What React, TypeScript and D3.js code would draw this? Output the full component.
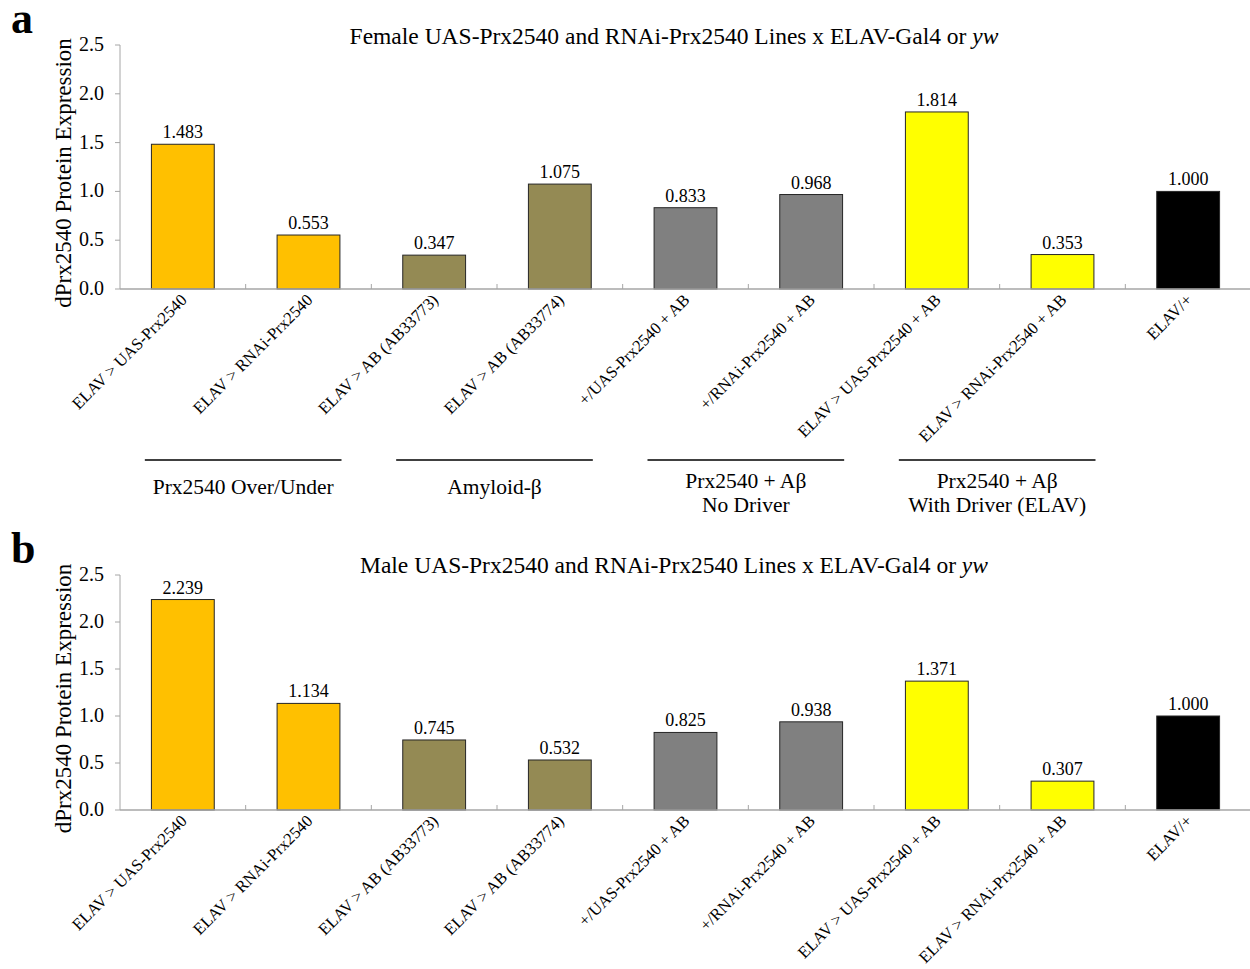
import React from "react";
import * as d3 from "d3";

// Genotype categories shared by both panels
const categories: string[] = [
  "ELAV > UAS-Prx2540",
  "ELAV > RNAi-Prx2540",
  "ELAV > AB (AB33773)",
  "ELAV > AB (AB33774)",
  "+/UAS-Prx2540 + AB",
  "+/RNAi-Prx2540 + AB",
  "ELAV > UAS-Prx2540 + AB",
  "ELAV > RNAi-Prx2540 + AB",
  "ELAV/+",
];

const barColors: string[] = [
  "#FFC000", "#FFC000",
  "#948A54", "#948A54",
  "#808080", "#808080",
  "#FFFF00", "#FFFF00",
  "#000000",
];

const femaleValues: number[] = [1.483, 0.553, 0.347, 1.075, 0.833, 0.968, 1.814, 0.353, 1.0];
const maleValues: number[] = [2.239, 1.134, 0.745, 0.532, 0.825, 0.938, 1.371, 0.307, 1.0];

const yTicks: number[] = [0, 0.5, 1.0, 1.5, 2.0, 2.5];

// Group brackets: first and last category index, and label lines
const groups: { from: number; to: number; lines: string[] }[] = [
  { from: 0, to: 1, lines: ["Prx2540 Over/Under"] },
  { from: 2, to: 3, lines: ["Amyloid-β"] },
  { from: 4, to: 5, lines: ["Prx2540 + Aβ", "No Driver"] },
  { from: 6, to: 7, lines: ["Prx2540 + Aβ", "With Driver (ELAV)"] },
];

const FONT = "'Liberation Serif', 'Times New Roman', serif";
const X0 = 120;
const X1 = 1251;

type PanelProps = {
  letter: string;
  sex: string;
  values: number[];
  top: number;
  bottom: number;
  titleY: number;
  letterY: number;
  showGroups: boolean;
};

function Panel({ letter, sex, values, top, bottom, titleY, letterY, showGroups }: PanelProps) {
  const x = d3.scaleBand<string>().domain(categories).range([X0, X1]).paddingInner(0.5).paddingOuter(0.25);
  const y = d3.scaleLinear().domain([0, 2.5]).range([bottom, top]);
  const step = x.step();
  const bw = x.bandwidth();
  const center = (c: string) => (x(c) as number) + bw / 2;
  const groupY = 460;

  return (
    <g>
      <text x={11} y={letterY} fontFamily={FONT} fontWeight="bold" fontSize={44}>{letter}</text>
      <text x={674} y={titleY} fontFamily={FONT} fontSize={23.5} textAnchor="middle">
        {sex} UAS-Prx2540 and RNAi-Prx2540 Lines x ELAV-Gal4 or <tspan fontStyle="italic">yw</tspan>
      </text>
      <text
        transform={`translate(71,${(top + bottom) / 2 + 6}) rotate(-90)`}
        fontFamily={FONT}
        fontSize={23}
        textAnchor="middle"
      >
        dPrx2540 Protein Expression
      </text>

      {/* y axis */}
      <line x1={X0} x2={X0} y1={top} y2={bottom} stroke="#a6a6a6" strokeWidth={1} />
      {yTicks.map((t) => (
        <g key={t}>
          <line x1={X0 - 5} x2={X0} y1={y(t)} y2={y(t)} stroke="#a6a6a6" />
          <text x={104} y={y(t) + 6} fontFamily={FONT} fontSize={20} textAnchor="end">
            {d3.format(".1f")(t)}
          </text>
        </g>
      ))}

      {/* bars */}
      {categories.map((c, i) => (
        <g key={c}>
          <rect
            x={x(c)}
            y={y(values[i])}
            width={bw}
            height={bottom - y(values[i])}
            fill={barColors[i]}
            stroke="#262626"
            strokeWidth={1}
          />
          <text x={center(c)} y={y(values[i]) - 6} fontFamily={FONT} fontSize={18} textAnchor="middle">
            {d3.format(".3f")(values[i])}
          </text>
        </g>
      ))}

      {/* x axis */}
      <line x1={X0} x2={X1} y1={bottom} y2={bottom} stroke="#a6a6a6" strokeWidth={1.5} />
      {d3.range(1, categories.length).map((k) => (
        <line key={k} x1={X0 + k * step} x2={X0 + k * step} y1={bottom - 5} y2={bottom} stroke="#a6a6a6" />
      ))}
      {categories.map((c) => (
        <text
          key={c}
          transform={`translate(${center(c) + 5},${bottom + 12}) rotate(-45)`}
          fontFamily={FONT}
          fontSize={16.6}
          textAnchor="end"
        >
          {c}
        </text>
      ))}

      {showGroups &&
        groups.map((g) => {
          const a = center(categories[g.from]) - 38;
          const b = center(categories[g.to]) + 33;
          const mid = (a + b) / 2;
          return (
            <g key={g.lines.join("|")}>
              <line x1={a} x2={b} y1={groupY} y2={groupY} stroke="#404040" strokeWidth={2} />
              {g.lines.map((ln, j) => (
                <text
                  key={j}
                  x={mid}
                  y={groupY + (g.lines.length === 1 ? 34 : 28 + j * 24)}
                  fontFamily={FONT}
                  fontSize={21.5}
                  textAnchor="middle"
                >
                  {ln}
                </text>
              ))}
            </g>
          );
        })}
    </g>
  );
}

export default function App() {
  return (
    <svg
      width={1250}
      height={969}
      style={{ position: "absolute", left: 0, top: 0, background: "#fff" }}
    >
      <rect width={1250} height={969} fill="#fff" />
      <Panel letter="a" sex="Female" values={femaleValues} top={45} bottom={289} titleY={44} letterY={33} showGroups />
      <Panel letter="b" sex="Male" values={maleValues} top={575} bottom={810} titleY={573} letterY={563} showGroups={false} />
    </svg>
  );
}
